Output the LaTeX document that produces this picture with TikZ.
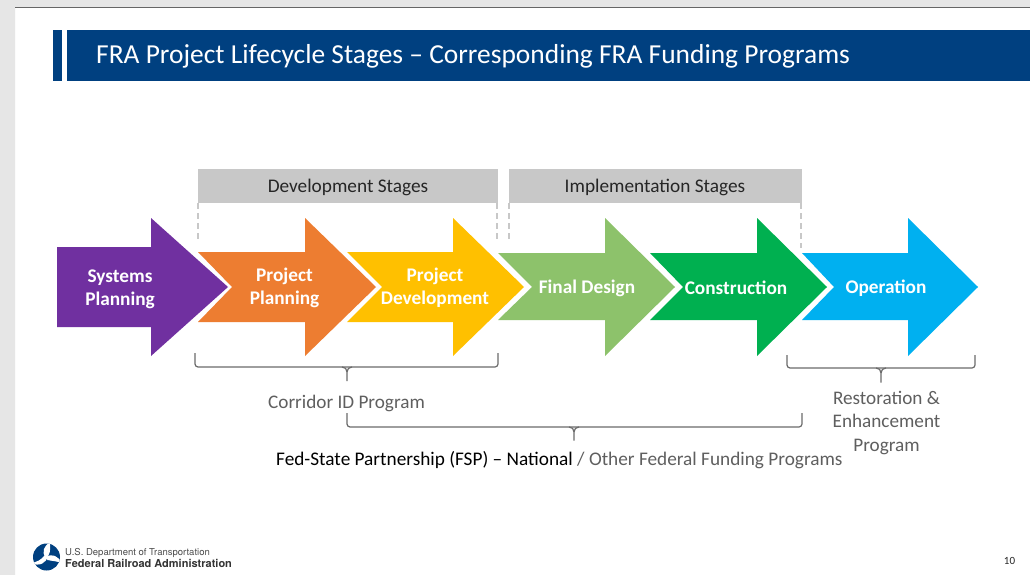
\documentclass[tikz,border=0pt]{standalone}
\usepackage{fontspec}
\setmainfont{Carlito}
\newfontfamily\logofont{TeX Gyre Heros}
\definecolor{navy}{HTML}{004080}
\definecolor{pagegray}{HTML}{E6E6E6}
\definecolor{boxgray}{HTML}{C8C8C8}
\definecolor{bracegray}{HTML}{6B6B6B}
\definecolor{labelgray}{HTML}{5F5F5F}
\definecolor{apurple}{HTML}{7030A0}
\definecolor{aorange}{HTML}{ED7D31}
\definecolor{ayellow}{HTML}{FFC000}
\definecolor{alime}{HTML}{8DC26B}
\definecolor{agreen}{HTML}{00B050}
\definecolor{ablue}{HTML}{00B0F0}
\tikzset{
  x=1pt,y=-1pt,
  arrowlabel/.style={text=white,font=\fontsize{19.3}{23}\selectfont\bfseries,align=center,inner sep=0pt},
  stagelabel/.style={text=black!85,font=\fontsize{19.3}{23}\selectfont,inner sep=0pt},
  proglabel/.style={text=labelgray,font=\fontsize{19.2}{23.5}\selectfont,align=center,inner sep=0pt},
  bracket/.style={draw=bracegray,line width=1.2pt},
  guide/.style={draw=boxgray,line width=1.1pt,dash pattern=on 6pt off 4pt},
}
\newcommand{\chevron}[7]{% colour, left, notch, headx, tip, bodytop, bodybot
  \fill[#1] (#2,#6) -- (#4,#6) -- (#4,218) -- (#5,287) -- (#4,356) -- (#4,#7) -- (#2,#7) -- (#3,287) -- cycle;}
\begin{document}
\begin{tikzpicture}
\useasboundingbox (0,0) rectangle (1030,575);
\fill[white] (0,0) rectangle (1030,575);
\fill[pagegray] (0,0) rectangle (1030,7) (0,0) rectangle (15,575);
\draw[black!60,line width=1pt] (15,7.5) -- (1030,7.5);
% title
\fill[navy] (53,30) rectangle (62,81.5);
\fill[navy] (67,30) rectangle (1030,81.5);
\node[anchor=west,text=white,inner sep=0pt,font=\fontsize{27.45}{32}\selectfont] (title) at (96,56.5) {FRA Project Lifecycle Stages – Corresponding FRA Funding Programs};
% stage boxes
\node[fill=boxgray,minimum width=300pt,minimum height=34pt,inner sep=0pt] (devbox) at (348,186) {};
\node[stagelabel] (devtext) at (348,187.5) {Development Stages};
\node[fill=boxgray,minimum width=293pt,minimum height=34pt,inner sep=0pt] (impbox) at (655.5,186) {};
\node[stagelabel] (imptext) at (655,187.5) {Implementation Stages};
\coordinate (g1) at (198,243);\coordinate (g2) at (497,243);\coordinate (g3) at (509,241);\coordinate (g4) at (801,248);
\draw[guide] (g1 |- devbox.south) -- (g1);
\draw[guide] (g2 |- devbox.south) -- (g2);
\draw[guide] (g3 |- impbox.south) -- (g3);
\draw[guide] (g4 |- impbox.south) -- (g4);
% arrows
\fill[apurple] (57,247) -- (151,247) -- (151,218) -- (228,287) -- (151,356) -- (151,327) -- (57,327) -- cycle;
\chevron{aorange}{198}{232}{305}{376}{252}{322}
\chevron{ayellow}{347}{382}{453}{524}{252}{322}
\chevron{alime}{498}{532}{605}{675}{253}{320}
\chevron{agreen}{650}{683}{757}{827}{253}{320}
\chevron{ablue}{802}{834}{908}{978}{253}{320}
\node[arrowlabel] (a1) at (120,289.5) {Systems\\Planning};
\node[arrowlabel] (a2) at (284.5,287.5) {Project\\Planning};
\node[arrowlabel] (a3) at (435,287.5) {Project\\Development};
\node[arrowlabel] (a4) at (587,288.5) {Final Design};
\node[arrowlabel] (a5) at (736,288) {Construction};
\node[arrowlabel] (a6) at (886,288.5) {Operation};
% brackets
\draw[bracket,rounded corners=3pt] (195,353) -- (195,367) -- (498,367) -- (498,353);
\draw[bracket] (347,381) -- (347,372) .. controls (347,369) and (345,367) .. (342,367);
\draw[bracket] (347,372) .. controls (347,369) and (349,367) .. (352,367);
\draw[bracket,rounded corners=3pt] (347,413) -- (347,427) -- (802,427) -- (802,413);
\draw[bracket] (574,440.5) -- (574,432) .. controls (574,429) and (572,427) .. (569,427);
\draw[bracket] (574,432) .. controls (574,429) and (576,427) .. (579,427);
\draw[bracket,rounded corners=3pt] (787,355) -- (787,368) -- (975,368) -- (975,355);
\draw[bracket] (881,382.5) -- (881,373) .. controls (881,370) and (879,368) .. (876,368);
\draw[bracket] (881,373) .. controls (881,370) and (883,368) .. (886,368);
% labels
\node[proglabel] (corridor) at (346.5,403) {Corridor ID Program};
\node[proglabel] (restore) at (886.5,423) {Restoration \&\\Enhancement\\Program};
\node[anchor=west,inner sep=0pt,font=\fontsize{19.27}{23}\selectfont,text=black] (fsp) at (276,460.5) {Fed-State Partnership (FSP) – National \textcolor{labelgray}{/ Other Federal Funding Programs}};
% footer
\fill[navy] (46.5,557) circle (13.5pt);
\begin{scope}
\clip (46.5,557) circle (13.5pt);
\fill[white] (46,558) .. controls (41,552) and (44,546) .. (50,542) .. controls (50,547) and (51,552) .. (48,556) -- cycle;
\fill[white] (46,557) .. controls (52,553) and (58,556) .. (62,563) .. controls (56,561) and (52,561) .. (47.5,560) -- cycle;
\fill[white] (47.5,556) .. controls (47,563) and (39,567) .. (31,563) .. controls (37,562) and (41,560) .. (44.5,555.5) -- cycle;
\end{scope}
\node[anchor=west,inner sep=0pt,text=black!70,font=\logofont\fontsize{9.5}{10}\selectfont] (dot) at (65,552.5) {U.S. Department of Transportation};
\node[anchor=west,inner sep=0pt,text=black!80,font=\logofont\fontsize{11}{12}\selectfont\bfseries] (fra) at (65,563) {Federal Railroad Administration};
\node[inner sep=0pt,text=black!85,font=\fontsize{11}{12}\selectfont] (page) at (1009.5,561) {10};
\end{tikzpicture}
\end{document}
